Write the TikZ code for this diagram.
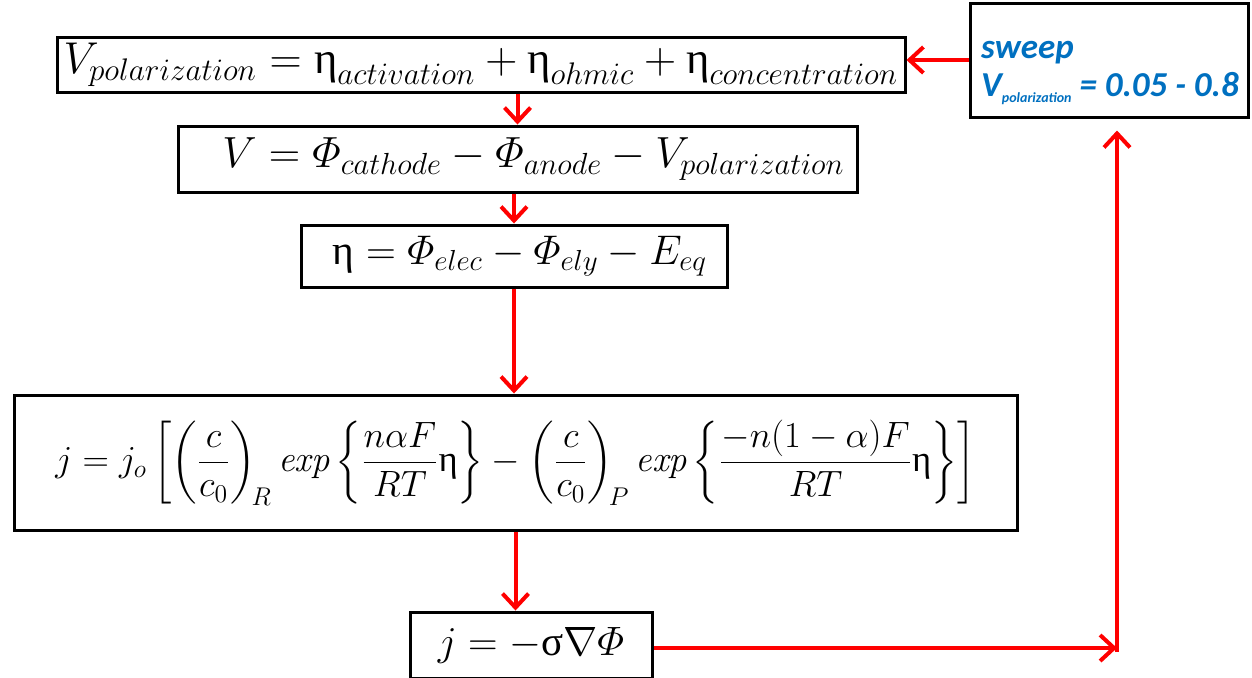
\RequirePackage{fix-cm}
\documentclass[tikz,border=0pt]{standalone}
\usepackage{amsmath}
\usepackage{fontspec}
\usetikzlibrary{arrows.meta}
\newfontfamily\grkfont{Liberation Serif}
\newfontfamily\calibfont{Carlito}
\definecolor{arrred}{RGB}{255,0,0}
\definecolor{swblue}{RGB}{0,112,192}
\newcommand\ueta{\mathord{\text{\grkfont η}}}
\newcommand\usig{\mathord{\text{\grkfont σ}}}
\begin{document}
\begin{tikzpicture}[x=0.5pt,y=-0.5pt,
  eqbox/.style={draw=black, line width=1.5pt, inner sep=0pt},
  flow/.style={draw=arrred, line width=2pt, -{Straight Barb[length=7pt,width=13pt,line width=2pt]}}]
\useasboundingbox (0,0) rectangle (1252,677);
\fill[white] (0,0) rectangle (1252,677);

\node[eqbox, minimum width=424pt, minimum height=27.5pt, font=\fontsize{22.3}{26}\selectfont] (b1) at (481,64.5)
  {$V_{polarization} = \ueta_{activation} + \ueta_{ohmic} + \ueta_{concentration}$};
\node[eqbox, minimum width=339.5pt, minimum height=33pt, font=\fontsize{21.8}{25}\selectfont] (b2) at (517.5,159)
  {\hspace*{16pt}$V = \varPhi_{cathode} - \varPhi_{anode} - V_{polarization}$};
\node[eqbox, minimum width=213pt, minimum height=31pt, font=\fontsize{20.7}{24}\selectfont] (b3) at (514,256)
  {\hspace*{6pt}$\ueta = \varPhi_{elec} - \varPhi_{ely} - E_{eq}$};
\node[eqbox, minimum width=501.5pt, minimum height=67.5pt, font=\fontsize{18.3}{22}\selectfont] (b4) at (515.5,462.5)
  {$\displaystyle j = j_o \left[\left(\frac{c}{c_0}\right)_{\!R} \mathit{exp}\left\{\frac{n\alpha F}{RT}\ueta\right\} - \left(\frac{c}{c_0}\right)_{\!P} \mathit{exp}\left\{\frac{-n(1-\alpha)F}{RT}\ueta\right\}\right]$};
\node[eqbox, minimum width=121pt, minimum height=33pt, font=\fontsize{20.5}{24}\selectfont] (b5) at (531,645)
  {$j = -\usig\nabla\varPhi$};
\node[draw=black, line width=1.5pt, minimum width=139pt, minimum height=57pt, inner sep=0pt] (sw) at (1109,60) {};
\node[text=swblue, align=left, inner sep=0pt, font=\calibfont\bfseries\itshape\fontsize{17.5}{19}\selectfont] (swt) at (1110,73)
  {\makebox[128pt][l]{sweep}\\V{\fontsize{7}{8}\selectfont\raisebox{-3pt}{polarization}} = 0.05 - 0.8};

\coordinate (c1) at (1117,648);

\draw[flow] (sw.west) -- (sw.west -| b1.east);
\draw[flow] (b2.north |- b1.south) -- (b2.north);
\draw[flow] (b2.south -| b3.north) -- (b3.north);
\draw[flow] (b3.south) -- (b3.south |- b4.north);
\draw[flow] (b4.south) -- (b4.south |- b5.north);
\draw[flow] (b5.east |- c1) -- (c1);
\draw[flow, shorten >=6pt] ([yshift=-2pt]c1) -- (c1 |- sw.south);
\end{tikzpicture}
\end{document}
